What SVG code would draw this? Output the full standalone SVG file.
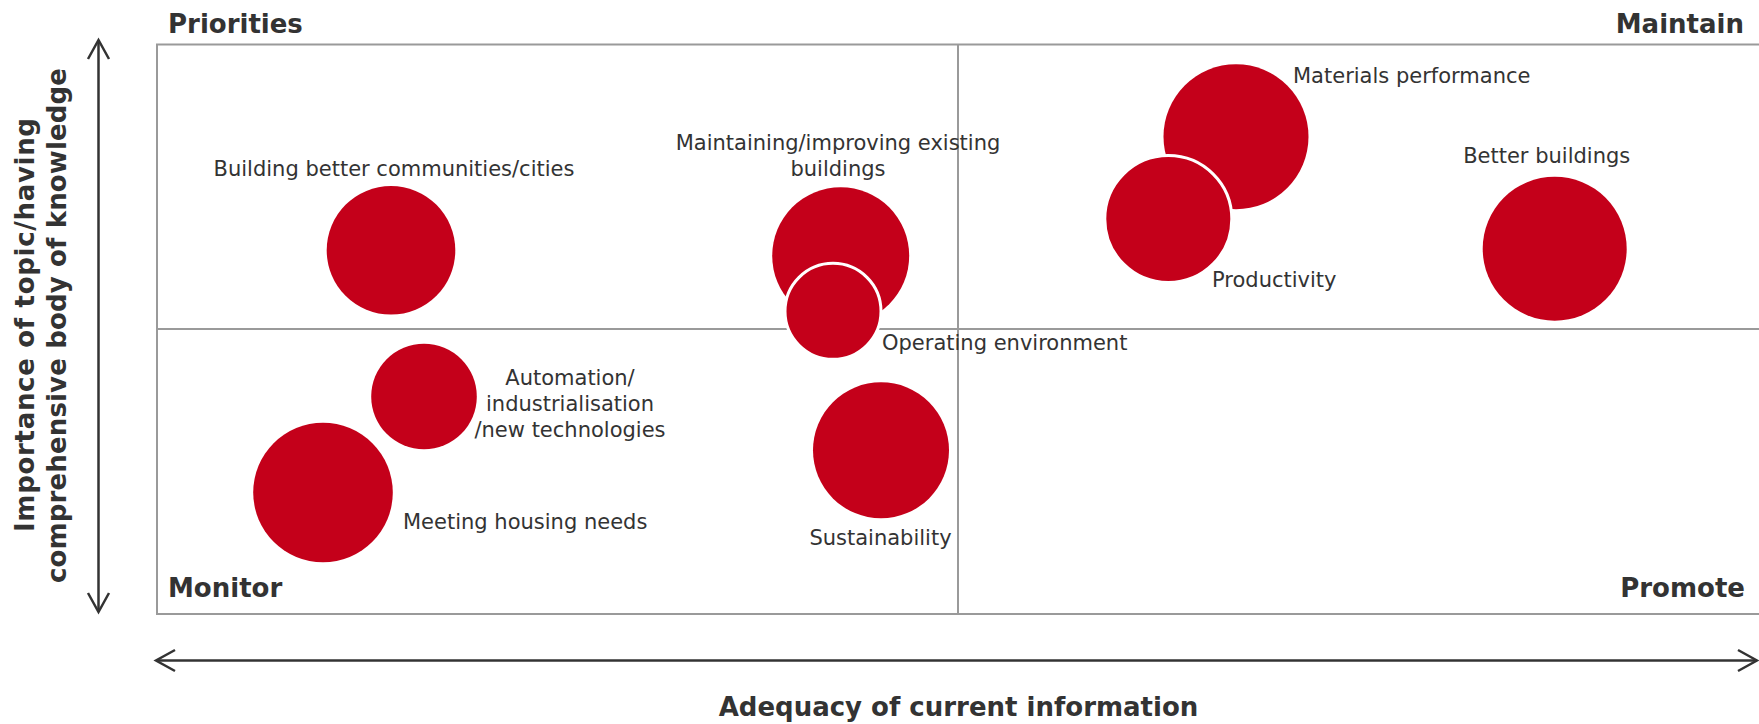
<svg xmlns="http://www.w3.org/2000/svg" width="1759" height="724" viewBox="0 0 1759 724">
<style>
.grid{fill:none;stroke:#9a9a9a;stroke-width:2}
.axis{fill:none;stroke:#333;stroke-width:2.5}
.bubble{fill:#C4001A}
.bubble.outlined{stroke:#fff;stroke-width:3}
.lbl{font-family:"DejaVu Sans","Liberation Sans",sans-serif;font-size:21px;fill:#333}
.hd{font-family:"DejaVu Sans","Liberation Sans",sans-serif;font-size:26px;font-weight:bold;fill:#333}
.mid{text-anchor:middle}
.end{text-anchor:end}
</style>
<defs>
<marker id="chev" markerUnits="userSpaceOnUse" markerWidth="30" markerHeight="30" viewBox="-22 -15 30 30" refX="0" refY="0" orient="auto-start-reverse">
<path d="M-19,-10.5 L0,0 L-19,10.5" fill="none" stroke="#333" stroke-width="2.5"/>
</marker>
</defs>
<rect width="1759" height="724" fill="#fff"/>
<g id="grid">
<rect class="grid" x="157" y="44.5" width="1620" height="569.5"/>
<line class="grid" x1="157" y1="329" x2="1759" y2="329"/>
<line class="grid" x1="958" y1="44.5" x2="958" y2="614"/>
</g>
<g id="connectors">
<line class="axis" x1="98.5" y1="40" x2="98.5" y2="612" marker-start="url(#chev)" marker-end="url(#chev)"/>
<line class="axis" x1="156" y1="660.5" x2="1757" y2="660.5" marker-start="url(#chev)" marker-end="url(#chev)"/>
</g>
<g id="quadrant-labels">
<text class="hd" x="168" y="33">Priorities</text>
<text class="hd end" x="1744" y="33">Maintain</text>
<text class="hd" x="168" y="597">Monitor</text>
<text class="hd end" x="1745" y="597">Promote</text>
</g>
<g id="axis-labels">
<text class="hd mid" transform="translate(33.5,325) rotate(-90)" textLength="414" lengthAdjust="spacing">Importance of topic/having</text>
<text class="hd mid" transform="translate(65.5,325.5) rotate(-90)" textLength="515" lengthAdjust="spacing">comprehensive body of knowledge</text>
<text class="hd mid" x="958.5" y="716">Adequacy of current information</text>
</g>
<g id="node-communities">
<circle class="bubble" cx="391" cy="250.3" r="64.3"/>
<text class="lbl mid" x="394" y="175.5">Building better communities/cities</text>
</g>
<g id="node-automation">
<circle class="bubble" cx="424" cy="396.5" r="52.8"/>
<text class="lbl mid" x="570" y="385">Automation/</text>
<text class="lbl mid" x="570" y="411">industrialisation</text>
<text class="lbl mid" x="570" y="437">/new technologies</text>
</g>
<g id="node-housing">
<circle class="bubble" cx="323" cy="492.5" r="69.8"/>
<text class="lbl" x="403" y="528.5">Meeting housing needs</text>
</g>
<g id="node-maintaining">
<circle class="bubble" cx="840.7" cy="255.8" r="68.5"/>
<text class="lbl mid" x="838" y="150">Maintaining/improving existing</text>
<text class="lbl mid" x="838" y="175.5">buildings</text>
</g>
<g id="node-operating">
<circle class="bubble outlined" cx="833" cy="311.3" r="48"/>
<text class="lbl" x="882" y="350">Operating environment</text>
</g>
<g id="node-sustainability">
<circle class="bubble" cx="881" cy="450.3" r="68"/>
<text class="lbl mid" x="880.5" y="545">Sustainability</text>
</g>
<g id="node-materials">
<circle class="bubble" cx="1236" cy="136.7" r="72.5"/>
<text class="lbl" x="1293" y="83.3">Materials performance</text>
</g>
<g id="node-productivity">
<circle class="bubble outlined" cx="1168.3" cy="219" r="63.5"/>
<text class="lbl" x="1212" y="287.3">Productivity</text>
</g>
<g id="node-better-buildings">
<circle class="bubble" cx="1554.7" cy="248.7" r="72"/>
<text class="lbl mid" x="1546.7" y="162.7">Better buildings</text>
</g>
</svg>
